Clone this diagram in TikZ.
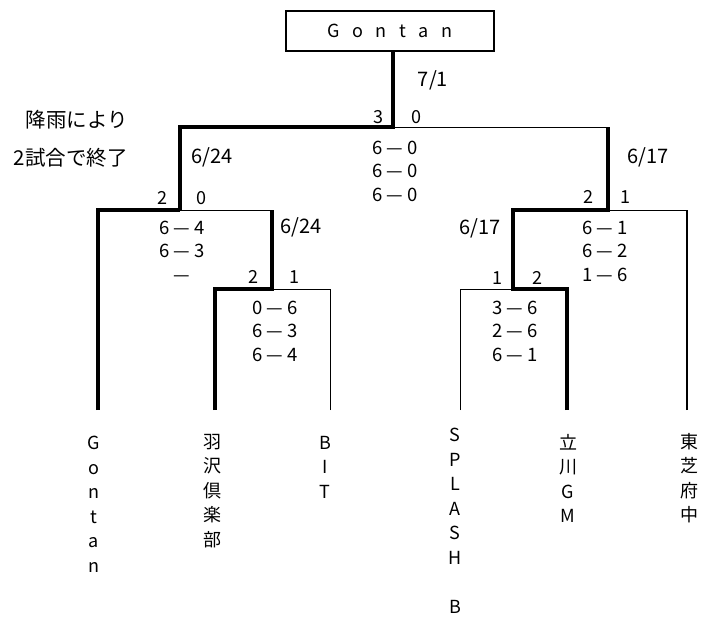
\documentclass[tikz,border=0pt]{standalone}
\usepackage{fontspec}
\setmainfont{Noto Sans CJK JP}
\tikzset{
  win/.style={line width=4.5pt},
  lose/.style={line width=1pt},
  half/.style={line width=2.6pt},
  team/.style={align=center,anchor=north,inner sep=0pt,font=\fontsize{18}{24.5}\selectfont},
  sets/.style={align=center,anchor=north,inner sep=0pt,font=\fontsize{18.5}{23.5}\selectfont},
  tally/.style={inner sep=0pt,font=\fontsize{18}{18}\selectfont},
  date/.style={inner sep=0pt,font=\fontsize{20}{20}\selectfont},
  note/.style={inner sep=0pt,anchor=east,font=\fontsize{20.5}{20.5}\selectfont}
}
\begin{document}
\begin{tikzpicture}[x=1pt,y=-1pt]
      \useasboundingbox (0,0) rectangle (707,616);
      \node[draw,line width=2.6pt,minimum width=208pt,minimum height=40pt,
        font=\fontsize{18}{18}\selectfont] (champ) at (390,31)
        {G\hspace{12.5pt}o\hspace{12.5pt}n\hspace{12.5pt}t\hspace{12.5pt}a\hspace{12.5pt}n};
      \draw
        (98,410) coordinate (a1)
        (215,410) coordinate (a2)
        (330,410) coordinate (a3)
        (460,410) coordinate (a4)
        (567,410) coordinate (a5)
        (687,410) coordinate (a6)
        (393,127) coordinate (f)
        (180,127) coordinate (sl)
        (608,127) coordinate (sr)
        (180,210) coordinate (q2)
        (98,210) coordinate (q2l)
        (272,210) coordinate (q2r)
        (272,289) coordinate (q1)
        (215,289) coordinate (q1l)
        (330,289) coordinate (q1r)
        (608,210) coordinate (q3)
        (513,210) coordinate (q3l)
        (687,210) coordinate (q3r)
        (513,289) coordinate (q4)
        (460,289) coordinate (q4l)
        (567,289) coordinate (q4r);
      \begin{scope}[-]
        \draw[win] (a1) -- (q2l) -- (q2);
        \draw[lose] (q2) -- (q2r);
        \draw[win] (a2) -- (q1l) -- (q1) -- (q2r);
        \draw[lose] (a3) -- (q1r) -- (q1);
        \draw[win] (q2) -- (sl) -- (f) -- (f |- champ.south);
        \draw[lose] (f) -- (sr);
        \draw[win] (a5) -- (q4r) -- (q4) -- (q3l) -- (q3) -- (sr);
        \draw[lose] (a4) -- (q4l) -- (q4);
        \draw[half] (a6) -- (q3r);
        \draw[lose] (q3r) -- (q3);
      \end{scope}
      \node[note] (rain) at (128,120) {降雨により};
      \node[note] (stop) at (128,158) {2試合で終了};
      \node[date] (d0) at (433,80) {7/1};
      \node[date] (d1) at (212,157) {6/24};
      \node[date] (d2) at (301,227) {6/24};
      \node[date] (d3) at (648,157) {6/17};
      \node[date] (d4) at (480,228) {6/17};
      \node[tally] (f1) at (378,117) {3};
      \node[tally] (f2) at (416,117) {0};
      \node[tally] (s1) at (162,198) {2};
      \node[tally] (s2) at (201,198) {0};
      \node[tally] (s3) at (253,277) {2};
      \node[tally] (s4) at (294,277) {1};
      \node[tally] (s5) at (588,197) {2};
      \node[tally] (s6) at (625,197) {1};
      \node[tally] (s7) at (497,278) {1};
      \node[tally] (s8) at (537,278) {2};
      \node[sets] (g0) at (395,140.5) {6 — 0\\6 — 0\\6 — 0};
      \node[sets] (g1) at (182,220.5) {6 — 4\\6 — 3\\—};
      \node[sets] (g2) at (275,300.5) {0 — 6\\6 — 3\\6 — 4};
      \node[sets] (g3) at (605,220.5) {6 — 1\\6 — 2\\1 — 6};
      \node[sets] (g4) at (515,300.5) {3 — 6\\2 — 6\\6 — 1};
      \node[team] (n1) at (94,436) {G\\o\\n\\t\\a\\n};
      \node[team] (n2) at (212,434) {羽\\沢\\倶\\楽\\部};
      \node[team] (n3) at (325,436) {B\\I\\T};
      \node[team] (n4) at (455,428) {S\\P\\L\\A\\S\\H\\ \\B};
      \node[team] (n5) at (568,434) {立\\川\\G\\M};
      \node[team] (n6) at (689,433) {東\\芝\\府\\中};
    \end{tikzpicture}
\end{document}
